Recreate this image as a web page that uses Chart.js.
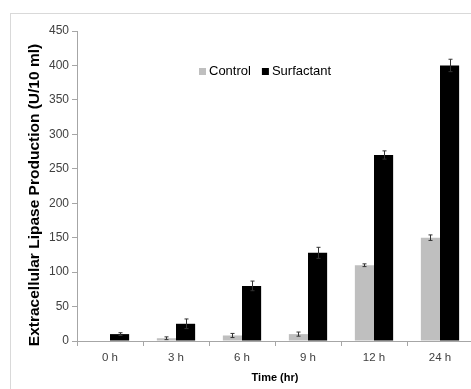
<!DOCTYPE html>
<html>
<head>
<meta charset="utf-8">
<script src="https://cdn.jsdelivr.net/npm/chart.js@4"></script>
<style>
  html, body { margin: 0; padding: 0; background: #fff; overflow: hidden; }
  #wrap { position: relative; width: 471px; height: 389px; overflow: hidden; }
  #frame { position: absolute; left: 10px; top: 13px; width: 470px; height: 390px;
           border-left: 1px solid #d9d9d9; border-top: 1px solid #d9d9d9; }
  #box { position: absolute; left: 0; top: 0; width: 480px; height: 389px; }
</style>
</head>
<body>
<div id="wrap">
  <div id="frame"></div>
  <div id="box"><canvas id="chart"></canvas></div>
</div>
<script>
// data
var timeLabels = ['0 h', '3 h', '6 h', '9 h', '12 h', '24 h'];
var controlValues = [0, 4, 8, 10, 110, 150];
var controlErrors = [0, 2, 3, 3, 2, 4];
var surfactantValues = [10, 25, 80, 128, 270, 400];
var surfactantErrors = [2, 7, 7, 8, 6, 9];

// error bars drawn through the scales
var errorBarPlugin = {
    id: 'errorBars',
    afterDatasetsDraw: function (chart) {
        var ctx = chart.ctx;
        var y = chart.scales.y;
        ctx.save();
        ctx.strokeStyle = '#333';
        ctx.lineWidth = 1;
        chart.data.datasets.forEach(function (ds, i) {
            var meta = chart.getDatasetMeta(i);
            meta.data.forEach(function (bar, j) {
                var err = ds.errors[j];
                if (!err) return;
                var v = ds.data[j];
                var x = Math.round(bar.x) + 0.5;
                var top = y.getPixelForValue(v + err);
                var bot = y.getPixelForValue(v - err);
                ctx.beginPath();
                ctx.moveTo(x, top); ctx.lineTo(x, bot);
                ctx.moveTo(x - 2, top); ctx.lineTo(x + 2, top);
                ctx.moveTo(x - 2, bot); ctx.lineTo(x + 2, bot);
                ctx.stroke();
            });
        });
        ctx.restore();
    }
};

// legend inside the plot + y axis title
var extrasPlugin = {
    id: 'extras',
    afterDraw: function (chart) {
        var ctx = chart.ctx;
        ctx.save();
        ctx.font = '13px "Liberation Sans", Arial, sans-serif';
        ctx.textBaseline = 'middle';
        var x = 199, yy = 71;
        chart.data.datasets.forEach(function (ds) {
            ctx.fillStyle = ds.backgroundColor;
            ctx.fillRect(x, yy - 3, 7, 7);
            ctx.fillStyle = '#000';
            ctx.fillText(ds.label, x + 10, yy);
            x += 10 + ctx.measureText(ds.label).width + 11;
        });
        ctx.translate(35, 195);
        ctx.rotate(-Math.PI / 2);
        ctx.textAlign = 'center';
        ctx.font = 'bold 15.5px "Liberation Sans", Arial, sans-serif';
        ctx.fillText('Extracellular Lipase Production (U/10 ml)', 0, 0);
        ctx.restore();
    }
};

var ctx = document.getElementById('chart').getContext('2d');
var chart = new Chart(ctx, {
    type: 'bar',
    data: {
        labels: timeLabels,
        datasets: [{
            label: 'Control',
            data: controlValues,
            errors: controlErrors,
            backgroundColor: '#bfbfbf'
        }, {
            label: 'Surfactant',
            data: surfactantValues,
            errors: surfactantErrors,
            backgroundColor: '#000000'
        }]
    },
    options: {
        responsive: true,
        maintainAspectRatio: false,
        animation: false,
        categoryPercentage: 0.58,
        barPercentage: 1.0,
        layout: { padding: { top: 31, right: 7, left: 0, bottom: 0 } },
        plugins: {
            legend: { display: false },
            tooltip: { enabled: false }
        },
        scales: {
            x: {
                afterFit: function (s) { s.height = 48; },
                border: { color: '#a6a6a6' },
                grid: { drawOnChartArea: false, tickLength: 5, color: '#a6a6a6' },
                ticks: { color: '#404040', padding: 5, font: { family: '"Liberation Sans", Arial', size: 11.5 } },
                title: {
                    display: true, text: 'Time (hr)', color: '#000',
                    font: { family: '"Liberation Sans", Arial', size: 11, weight: 'bold' },
                    padding: { top: 4 }
                }
            },
            y: {
                min: 0, max: 450,
                afterFit: function (s) { s.width = 77; },
                border: { color: '#a6a6a6' },
                grid: { drawOnChartArea: false, tickLength: 5, color: '#a6a6a6' },
                ticks: { stepSize: 50, color: '#404040', padding: 3, font: { family: '"Liberation Sans", Arial', size: 12 } }
            }
        }
    },
    plugins: [errorBarPlugin, extrasPlugin]
});
</script>
</body>
</html>
